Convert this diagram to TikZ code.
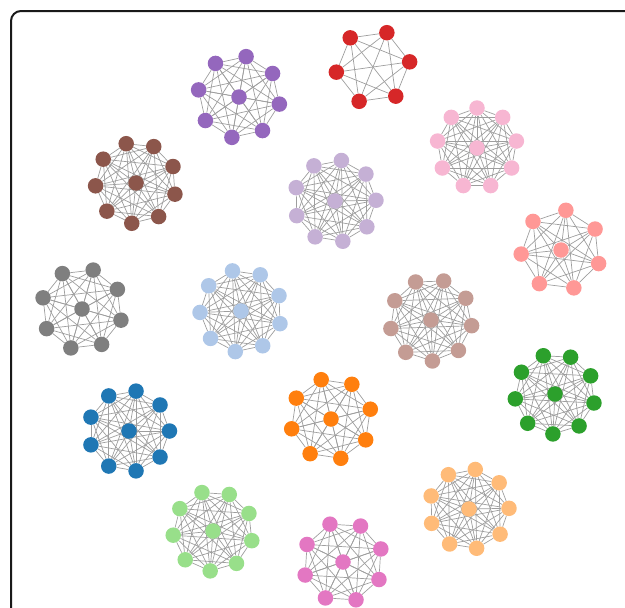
\documentclass[tikz,border=0pt]{standalone}
\usepackage{tikz}

\definecolor{tabblue}{HTML}{1F77B4}
\definecolor{tabbluelt}{HTML}{AEC7E8}
\definecolor{taborange}{HTML}{FF7F0E}
\definecolor{taborangelt}{HTML}{FFBB78}
\definecolor{tabgreen}{HTML}{2CA02C}
\definecolor{tabgreenlt}{HTML}{98DF8A}
\definecolor{tabred}{HTML}{D62728}
\definecolor{tabredlt}{HTML}{FF9896}
\definecolor{tabpurple}{HTML}{9467BD}
\definecolor{tabpurplelt}{HTML}{C5B0D5}
\definecolor{tabbrown}{HTML}{8C564B}
\definecolor{tabbrownlt}{HTML}{C49C94}
\definecolor{tabpink}{HTML}{E377C2}
\definecolor{tabpinklt}{HTML}{F7B6D2}
\definecolor{tabgray}{HTML}{7F7F7F}

\pgfdeclarelayer{back}
\pgfsetlayers{back,main}

\tikzset{
  vertex/.style={circle, inner sep=0pt, minimum size=15.5pt},
  edge/.style={draw=black!38, line width=0.7pt},
}

% #1 name, #2 colour, #3 #4 centre, #5 ring size, #6 first angle, #7 centre node, #8 radius
\newcommand{\clique}[8]{%
  \foreach \k in {1,...,#5}
    \node[vertex, fill=#2] (#1-\k) at ({#3+#8*cos(#6-(\k-1)*360/#5)}, {#4-#8*sin(#6-(\k-1)*360/#5)}) {};
  \ifnum#7=1 \node[vertex, fill=#2] (#1-0) at (#3,#4) {};\fi
  \begin{pgfonlayer}{back}
    \foreach \i in {2,...,#5}{
      \pgfmathtruncatemacro{\jmax}{\i-1}
      \foreach \j in {1,...,\jmax}
        \draw[edge] (#1-\i) -- (#1-\j);
    }
    \ifnum#7=1
      \foreach \k in {1,...,#5}
        \draw[edge] (#1-0) -- (#1-\k);
    \fi
  \end{pgfonlayer}
}

\begin{document}
\begin{tikzpicture}[x=1pt, y=-1pt]

\useasboundingbox (0,0) rectangle (625,608);
\draw[line width=2pt, rounded corners=10pt, black!90] (11,660) -- (11,11) -- (680,11);

\clique{purple}{tabpurple}{239}{97}{8}{80}{1}{41}
\clique{red}{tabred}{373}{67}{6}{8}{0}{37}
\clique{pink}{tabpinklt}{477}{148}{9}{90}{1}{40}
\clique{brown}{tabbrown}{136}{183}{9}{104}{1}{40.5}
\clique{lavender}{tabpurplelt}{335}{201}{9}{81}{1}{41}
\clique{salmon}{tabredlt}{561}{250}{7}{83}{1}{40}
\clique{grey}{tabgray}{82}{309}{8}{74}{1}{40.5}
\clique{sky}{tabbluelt}{241}{311}{9}{102}{1}{41}
\clique{tan}{tabbrownlt}{431}{320}{9}{112}{1}{41}
\clique{blue}{tabblue}{129}{431}{9}{80}{1}{40.5}
\clique{orange}{taborange}{331}{419}{8}{104}{1}{40.5}
\clique{green}{tabgreen}{555}{394}{9}{107}{1}{40}
\clique{lime}{tabgreenlt}{213}{531}{9}{106}{1}{40}
\clique{magenta}{tabpink}{343}{562}{8}{109}{1}{40}
\clique{peach}{taborangelt}{469}{509}{9}{81}{1}{40}

\end{tikzpicture}
\end{document}
